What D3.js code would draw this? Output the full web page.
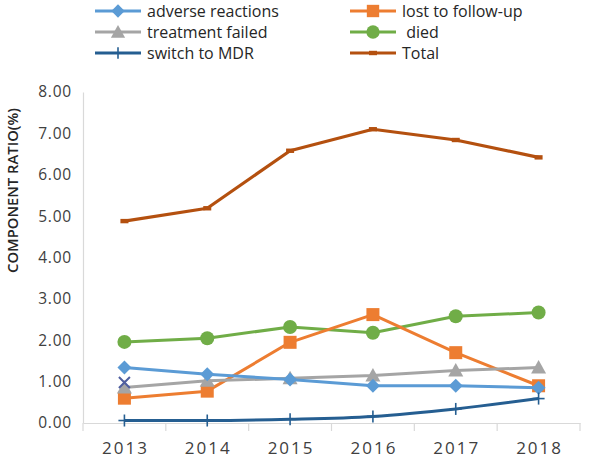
<!DOCTYPE html>
<html>
<head>
<meta charset="utf-8">
<script src="https://cdn.jsdelivr.net/npm/d3@7"></script>
<style>
  html, body { margin: 0; padding: 0; background: #fff; }
  svg { display: block; }
  text { font-family: "Open Sans", "Liberation Sans", sans-serif; }
</style>
</head>
<body>
<svg id="chart" width="602" height="461"></svg>
<script>
const years = ["2013", "2014", "2015", "2016", "2017", "2018"];
const adverseReactions = [1.34, 1.18, 1.05, 0.90, 0.90, 0.85];
const lostToFollowUp   = [0.60, 0.77, 1.95, 2.62, 1.70, 0.90];
const treatmentFailed  = [0.86, 1.02, 1.08, 1.15, 1.27, 1.34];
const died             = [1.96, 2.05, 2.32, 2.18, 2.58, 2.67];
const switchToMDR      = [0.06, 0.06, 0.09, 0.16, 0.34, 0.59];
const total            = [4.88, 5.19, 6.58, 7.10, 6.84, 6.42];
const strayPoint       = [{ year: "2013", value: 0.98 }];
const yTicks = [0, 1, 2, 3, 4, 5, 6, 7, 8];

const series = [
  { name: "adverse reactions", values: adverseReactions, color: "#5B9BD5", marker: "diamond", curve: d3.curveLinear, width: 3 },
  { name: "lost to follow-up", values: lostToFollowUp, color: "#ED7D31", marker: "square", curve: d3.curveLinear, width: 3 },
  { name: "treatment failed", values: treatmentFailed, color: "#A5A5A5", marker: "triangle", curve: d3.curveLinear, width: 3 },
  { name: " died", values: died, color: "#70AD47", marker: "circle", curve: d3.curveLinear, width: 3 },
  { name: "switch to MDR", values: switchToMDR, color: "#255E91", marker: "plus", curve: d3.curveMonotoneX, width: 3 },
  { name: "Total", values: total, color: "#B4500F", marker: "dash", curve: d3.curveLinear, width: 3.2 }
];

const svg = d3.select("#chart");
const mLeft = 83, mRight = 580, mTop = 92, mBottom = 423;

const x = d3.scaleBand().domain(years).range([mLeft, mRight]).padding(0);
const cx = d => x(d) + x.bandwidth() / 2;
const y = d3.scaleLinear().domain([0, 8]).range([mBottom, mTop]);

// Y axis
const yAxis = svg.append("g").attr("transform", `translate(${mLeft},0)`)
  .call(d3.axisLeft(y).tickValues(yTicks).tickFormat(d3.format(".2f")).tickSize(0).tickPadding(11));
yAxis.select(".domain").attr("stroke", "#d9d9d9").attr("stroke-width", 1.2);
yAxis.selectAll("text").attr("font-size", 15.5).attr("fill", "#404040").attr("letter-spacing", "0.8px");

// X axis
const xAxis = svg.append("g").attr("transform", `translate(0,${mBottom})`)
  .call(d3.axisBottom(x).tickSize(0).tickPadding(19));
xAxis.select(".domain").attr("stroke", "#d9d9d9").attr("stroke-width", 1.2);
xAxis.selectAll("text").attr("font-size", 17).attr("fill", "#404040").attr("letter-spacing", "2px")
  .attr("dx", "1px");
// boundary ticks
const bounds = years.map(d => x(d)).concat([x.range()[1]]);
xAxis.selectAll("line.bt").data(bounds).enter().append("line")
  .attr("class", "bt")
  .attr("x1", d => d).attr("x2", d => d)
  .attr("y1", 0).attr("y2", 8)
  .attr("stroke", "#d9d9d9").attr("stroke-width", 1.2);

// Y title
svg.append("text")
  .attr("transform", `translate(18,${(mTop + mBottom) / 2 - 67}) rotate(-90)`)
  .attr("text-anchor", "middle")
  .attr("font-size", 14.8)
  .attr("font-weight", 600)
  .attr("fill", "#262626")
  .text("COMPONENT RATIO(%)");

function drawMarker(g, type, color, px, py, s) {
  s = s || 1;
  if (type === "diamond") {
    const r = 7 * s;
    g.append("path").attr("d", `M${px},${py - r}L${px + r},${py}L${px},${py + r}L${px - r},${py}Z`).attr("fill", color);
  } else if (type === "square") {
    const r = 6.5 * s;
    g.append("rect").attr("x", px - r).attr("y", py - r).attr("width", 2 * r).attr("height", 2 * r).attr("fill", color);
  } else if (type === "triangle") {
    const r = 7.5 * s;
    g.append("path").attr("d", `M${px},${py - r}L${px + r},${py + r * 0.8}L${px - r},${py + r * 0.8}Z`).attr("fill", color);
  } else if (type === "circle") {
    g.append("circle").attr("cx", px).attr("cy", py).attr("r", 7 * s).attr("fill", color);
  } else if (type === "plus") {
    const r = 6 * s;
    g.append("line").attr("x1", px).attr("x2", px).attr("y1", py - r).attr("y2", py + r).attr("stroke", color).attr("stroke-width", 1.6);
    g.append("line").attr("x1", px - r).attr("x2", px + r).attr("y1", py).attr("y2", py).attr("stroke", color).attr("stroke-width", 1.6);
  } else if (type === "dash") {
    g.append("rect").attr("x", px - 4).attr("y", py - 2.2).attr("width", 8).attr("height", 4.4).attr("fill", color);
  } else if (type === "x") {
    const r = 5.5 * s;
    g.append("path").attr("d", `M${px - r},${py - r}L${px + r},${py + r}M${px - r},${py + r}L${px + r},${py - r}`)
      .attr("stroke", color).attr("stroke-width", 2);
  }
}

const order = [5, 3, 1, 2, 0, 4];
const plot = svg.append("g");
order.forEach(i => {
  const s = series[i];
  const line = d3.line().x((d, j) => cx(years[j])).y(d => y(d)).curve(s.curve);
  plot.append("path").attr("d", line(s.values)).attr("fill", "none")
    .attr("stroke", s.color).attr("stroke-width", s.width).attr("stroke-linejoin", "round");
  const mg = plot.append("g");
  s.values.forEach((v, j) => drawMarker(mg, s.marker, s.color, cx(years[j]), y(v)));
});

strayPoint.forEach(p => drawMarker(plot, "x", "#4F5FA0", cx(p.year), y(p.value)));

// Legend
const legend = svg.append("g");
const legendPos = [
  { col: 0, row: 0 }, { col: 1, row: 0 },
  { col: 0, row: 1 }, { col: 1, row: 1 },
  { col: 0, row: 2 }, { col: 1, row: 2 }
];
const colX = [95, 350], rowY = [11, 32, 53];
series.forEach((s, i) => {
  const p = legendPos[i];
  const lx = colX[p.col], ly = rowY[p.row];
  const g = legend.append("g");
  g.append("line").attr("x1", lx).attr("x2", lx + 46).attr("y1", ly).attr("y2", ly)
    .attr("stroke", s.color).attr("stroke-width", s.width);
  drawMarker(g, s.marker, s.color, lx + 23, ly, 0.95);
  g.append("text").attr("x", lx + 52).attr("y", ly).attr("dy", "0.35em")
    .style("white-space", "pre")
    .attr("font-size", 16).attr("fill", "#262626").text(s.name);
});
</script>
</body>
</html>
